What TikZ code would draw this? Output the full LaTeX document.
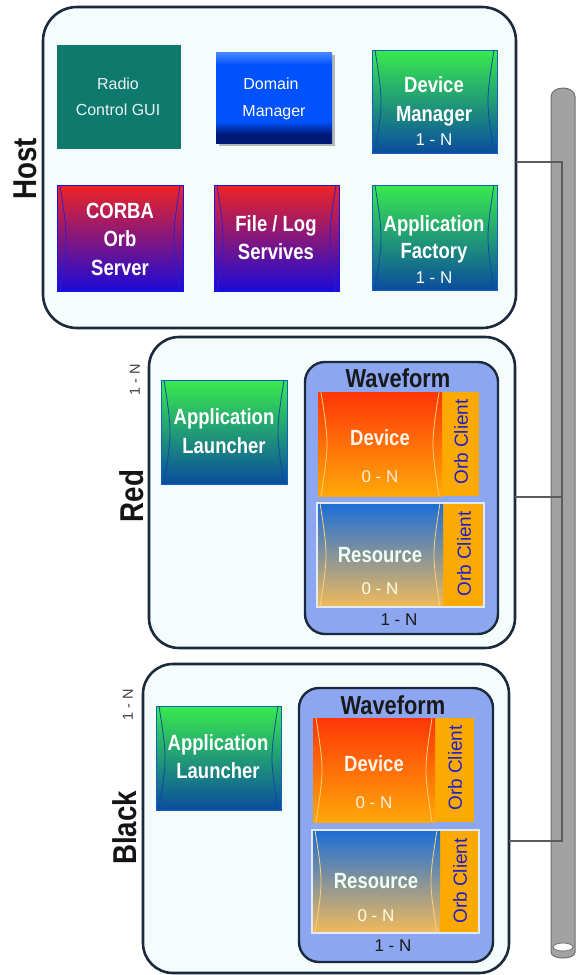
\documentclass[tikz,border=0pt]{standalone}
\usepackage{fontspec}
\setmainfont{Liberation Sans}
\newfontfamily\condb[FakeStretch=0.84]{Liberation Sans}
\definecolor{edgeNavy}{HTML}{1A2A3C}
\definecolor{contFill}{HTML}{F5FCFC}
\definecolor{gTop}{HTML}{38EA4E}
\definecolor{gBot}{HTML}{0A4C9E}
\definecolor{gEdge}{HTML}{1262C0}
\definecolor{gLens}{HTML}{0E4AA0}
\definecolor{rTop}{HTML}{EE2424}
\definecolor{rBot}{HTML}{1A0AD8}
\definecolor{rEdge}{HTML}{1414F0}
\definecolor{rLens}{HTML}{2A20D0}
\definecolor{domTop}{HTML}{4A8AFF}
\definecolor{domMid}{HTML}{0052FF}
\definecolor{domBot}{HTML}{001A78}
\definecolor{teal}{HTML}{0E7A6E}
\definecolor{wfFill}{HTML}{8CA6F0}
\definecolor{stripC}{HTML}{FCAA02}
\definecolor{devTop}{HTML}{FF3608}
\definecolor{devBot}{HTML}{FFA808}
\definecolor{resTop}{HTML}{1A6ED8}
\definecolor{resBot}{HTML}{F2BA5A}
\definecolor{yLens}{HTML}{FFD27A}
\definecolor{orbBlue}{HTML}{2020C8}
\definecolor{pipeFill}{HTML}{A2A2A2}
\definecolor{pipeEdge}{HTML}{6E6E6E}
\definecolor{connGray}{HTML}{5C5C5C}
\pgfdeclareverticalshading{domshade}{100bp}{color(0bp)=(domBot); color(25bp)=(domBot); color(30bp)=(domBot); color(37bp)=(domMid); color(68bp)=(domMid); color(75bp)=(domTop); color(100bp)=(domTop)}
\newcommand\drawlens[2]{%
  \draw[line width=0.8pt, draw=#2] ([xshift=3]#1.north west) .. controls ([xshift=11]#1.west) .. ([xshift=3]#1.south west);
  \draw[line width=0.8pt, draw=#2] ([xshift=-3]#1.north east) .. controls ([xshift=-11]#1.east) .. ([xshift=-3]#1.south east);}
\tikzset{
  cont/.style={draw=edgeNavy, line width=2.6pt, fill=contFill, rounded corners=30pt, inner sep=0pt, outer sep=0pt, anchor=north west},
  blk/.style={inner sep=0pt, outer sep=0pt, anchor=north west},
  gbox/.style={blk, draw=gEdge, line width=1pt, top color=gTop, bottom color=gBot},
  rbox/.style={blk, draw=rEdge, line width=1pt, top color=rTop, bottom color=rBot},
  wf/.style={blk, draw=edgeNavy, line width=2.4pt, fill=wfFill, rounded corners=20pt},
  strip/.style={blk, fill=stripC},
  devb/.style={blk, top color=devTop, bottom color=devBot},
  resb/.style={blk, top color=resTop, bottom color=resBot},
  rframe/.style={blk, draw=white!75!wfFill, line width=1.3pt},
  ttl/.style={anchor=base, inner sep=0pt, text=white, font=\condb\bfseries\fontsize{22}{26}\selectfont},
  wft/.style={anchor=base, inner sep=0pt, text=black!90, font=\condb\bfseries\fontsize{26}{30}\selectfont},
  num/.style={anchor=base, inner sep=0pt, font=\fontsize{17}{20}\selectfont},
  plain/.style={anchor=base, inner sep=0pt, text=white, font=\fontsize{16}{20}\selectfont},
  lbl/.style={inner sep=0pt, rotate=90, text=black!92, font=\condb\bfseries\fontsize{33}{36}\selectfont},
  small/.style={inner sep=0pt, rotate=90, text=black!75, font=\fontsize{14.5}{16}\selectfont},
  orb/.style={inner sep=0pt, rotate=90, text=orbBlue, font=\fontsize{19}{21}\selectfont},
  conn/.style={draw=connGray, line width=2pt},
}
\begin{document}
\begin{tikzpicture}[x=1pt,y=-1pt]
\useasboundingbox[fill=white] (0,0) rectangle (576,975);

% ---------- bus pipe ----------
\path[draw=pipeEdge, fill=pipeFill, line width=1pt]
  (551,952) -- (551,97) .. controls (551,85) and (575,85) .. (575,97)
  -- (575,952) .. controls (575,960) and (551,960) .. (551,952) -- cycle;
\draw[pipeEdge, fill=white, line width=0.8pt] (563,947) ellipse [x radius=10, y radius=4];

% ---------- Host ----------
\node[cont, rounded corners=34pt, minimum width=473, minimum height=321] (host) at (43,7) {};
\node[lbl] (hostl) at (25,169) {Host};

\node[blk, fill=teal, minimum width=124, minimum height=104] (rcg) at (57,45) {};
\node[plain, text=white!92!teal] (rcg1) at (118,89) {Radio};
\node[plain, text=white!92!teal] (rcg2) at (118,115) {Control GUI};

\node[blk, fill=black!45, opacity=0.6, minimum width=116, minimum height=91] (dmsh) at (219,55) {};
\node[blk, shading=domshade, minimum width=116, minimum height=91] (dom) at (216,52) {};
\node[plain] (dom1) at (271,89) {Domain};
\node[plain] (dom2) at (274,116) {Manager};

\node[gbox, minimum width=125, minimum height=103] (dm) at (372,50) {};
\drawlens{dm}{gLens}
\node[ttl] (dm1) at (434,92) {Device};
\node[ttl] (dm2) at (434,121) {Manager};
\node[num, text=white] (dm3) at (434,145) {1 - N};

\node[rbox, minimum width=126, minimum height=106] (corba) at (57,185) {};
\drawlens{corba}{rLens}
\node[ttl] (co1) at (120,218) {CORBA};
\node[ttl] (co2) at (120,246) {Orb};
\node[ttl] (co3) at (120,275) {Server};

\node[rbox, minimum width=125, minimum height=106] (flog) at (214,185) {};
\drawlens{flog}{rLens}
\node[ttl] (fl1) at (276,231) {File / Log};
\node[ttl] (fl2) at (276,259) {Servives};

\node[gbox, minimum width=125, minimum height=105] (af) at (372,185) {};
\drawlens{af}{gLens}
\node[ttl] (af1) at (434,231) {Application};
\node[ttl] (af2) at (434,258) {Factory};
\node[num, text=white] (af3) at (434,283) {1 - N};

% ---------- Red ----------
\node[cont, minimum width=366, minimum height=311] (red) at (149,337) {};
\node[lbl] (redl) at (132,496) {Red};
\node[small] (redn) at (135,380) {1 - N};

\node[gbox, minimum width=126, minimum height=104] (ral) at (161,380) {};
\drawlens{ral}{gLens}
\node[ttl] (ral1) at (224,424) {Application};
\node[ttl] (ral2) at (224,453) {Launcher};

\node[wf, minimum width=193, minimum height=272] (rwf) at (305,362) {};
\node[wft] (rwft) at (398,387) {Waveform};

\node[strip, minimum width=161, minimum height=104] (rdevs) at (318,392) {};
\node[devb, minimum width=124, minimum height=104] (rdev) at (318,392) {};
\drawlens{rdev}{yLens}
\node[ttl, text=white!92!orange] (rdev1) at (380,445) {Device};
\node[num, text=white!88!orange] (rdev2) at (380,482) {0 - N};
\node[orb] (rdevo) at (461,442) {Orb Client};

\node[strip, minimum width=167, minimum height=104] (rress) at (317,503) {};
\node[resb, minimum width=126, minimum height=104] (rres) at (317,503) {};
\node[rframe, minimum width=167, minimum height=104] (rresf) at (317,503) {};
\drawlens{rres}{yLens}
\node[ttl, text=white!94!green] (rres1) at (380,562) {Resource};
\node[num, text=white!90!yellow] (rres2) at (380,594) {0 - N};
\node[orb] (rreso) at (464,554) {Orb Client};
\node[num, text=black!90] (rwfn) at (399,625) {1 - N};

% ---------- Black ----------
\node[cont, minimum width=366, minimum height=309] (black) at (143,664) {};
\node[lbl] (blackl) at (125,828) {Black};
\node[small] (blackn) at (128,705) {1 - N};

\node[gbox, minimum width=125, minimum height=104] (bal) at (156,706) {};
\drawlens{bal}{gLens}
\node[ttl] (bal1) at (218,750) {Application};
\node[ttl] (bal2) at (218,778) {Launcher};

\node[wf, minimum width=194, minimum height=274] (bwf) at (299,688) {};
\node[wft] (bwft) at (393,714) {Waveform};

\node[strip, minimum width=161, minimum height=104] (bdevs) at (313,718) {};
\node[devb, minimum width=122, minimum height=104] (bdev) at (313,718) {};
\drawlens{bdev}{yLens}
\node[ttl, text=white!92!orange] (bdev1) at (374,771) {Device};
\node[num, text=white!88!orange] (bdev2) at (374,808) {0 - N};
\node[orb] (bdevo) at (455,768) {Orb Client};

\node[strip, minimum width=167, minimum height=103] (bress) at (312,830) {};
\node[resb, minimum width=128, minimum height=103] (bres) at (312,830) {};
\node[rframe, minimum width=167, minimum height=103] (bresf) at (312,830) {};
\drawlens{bres}{yLens}
\node[ttl, text=white!94!green] (bres1) at (376,888) {Resource};
\node[num, text=white!90!yellow] (bres2) at (376,921) {0 - N};
\node[orb] (breso) at (460,881) {Orb Client};
\node[num, text=black!90] (bwfn) at (393,951) {1 - N};

% ---------- connectors ----------
\coordinate (busTop) at (562,162);
\coordinate (tapRed) at (562,497);
\coordinate (busBot) at (562,841);
\draw[conn] (host.east |- busTop) -- (busTop) -- (busBot) -- (black.east |- busBot);
\draw[conn] (red.east |- tapRed) -- (tapRed);
\end{tikzpicture}
\end{document}
